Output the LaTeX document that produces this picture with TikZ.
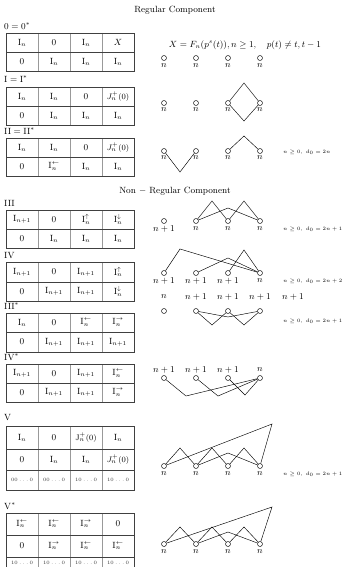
\documentclass[tikz,border=0pt]{standalone}
\usepackage{amsmath,amssymb}
\newcommand\tgridtwo[3]{%
  \draw[vl] (38,#1)--(38,#3) (70,#1)--(70,#3) (102,#1)--(102,#3);
  \draw[tl] (6,#1) rectangle (134,#3);
  \draw[tl] (6,#2)--(134,#2);}
\newcommand\trow[6]{%
  \node[ent] (#1a) at (22,#2) {$#3$};
  \node[ent] (#1b) at (54,#2) {$#4$};
  \node[ent] (#1c) at (86,#2) {$#5$};
  \node[ent] (#1d) at (118,#2) {$#6$};}
\newcommand\smrow[6]{%
  \node[sment] (#1a) at (22,#2) {#3};
  \node[sment] (#1b) at (54,#2) {#4};
  \node[sment] (#1c) at (86,#2) {#5};
  \node[sment] (#1d) at (118,#2) {#6};}
\newcommand\fourv[2]{% prefix, y
  \node[vx] (#1a) at (164,#2) {};
  \node[vx] (#1b) at (196,#2) {};
  \node[vx] (#1c) at (228,#2) {};
  \node[vx] (#1d) at (260,#2) {};}
\newcommand\Jzi{\mbox{\footnotesize$J_n^{+}(0)$}}
\newcommand\Jzr{\mbox{\footnotesize$\mathrm{J}_n^{+}(0)$}}
\begin{document}
\begin{tikzpicture}[x=1pt,y=-1pt,
  tl/.style={draw=black!75,line width=0.5pt},
  vl/.style={draw=black!40,line width=0.8pt},
  ent/.style={inner sep=0pt,font=\small},
  sment/.style={inner sep=0pt,font=\fontsize{4.5}{5}\selectfont,text=black!80},
  vx/.style={circle,draw,inner sep=0pt,minimum size=5pt,line width=0.45pt},
  lab/.style={inner sep=0pt,font=\small},
  gl/.style={line width=0.45pt},
  ttl/.style={anchor=west,inner sep=0pt,font=\small},
  tinytxt/.style={anchor=west,inner sep=0pt,font=\fontsize{4}{5}\selectfont}
]
\useasboundingbox (0,0) rectangle (344,567);
\begin{scope}
\clip (0,0) rectangle (344,567);
% headings
\node[inner sep=0pt,font=\small] (h1) at (175,10) {Regular Component};
\node[inner sep=0pt,font=\small] (h2) at (175,191) {Non $-$ Regular Component};

% ---------- 0 = 0*
\node[ttl] (t0) at (4,26) {$0=0^{*}$};
\tgridtwo{33}{52}{71}
\trow{r0a}{42.5}{\mathrm{I}_n}{0}{\mathrm{I}_n}{X}
\trow{r0b}{61.5}{0}{\mathrm{I}_n}{\mathrm{I}_n}{\mathrm{I}_n}
\node[inner sep=0pt,font=\small] (f0) at (245,45) {$X=F_n(p^{s}(t)),n\geq 1,\quad p(t)\neq t,t-1$};
\fourv{g0}{58}
\foreach \i/\x in {a/164,b/196,c/228,d/260} \node[lab] (l0\i) at (\x,66) {$n$};

% ---------- I = I*
\node[ttl] (t1) at (4,79) {$\mathrm{I}=\mathrm{I}^{*}$};
\tgridtwo{87}{106}{125}
\trow{r1a}{96.5}{\mathrm{I}_n}{\mathrm{I}_n}{0}{\Jzi}
\trow{r1b}{115.5}{0}{\mathrm{I}_n}{\mathrm{I}_n}{\mathrm{I}_n}
\fourv{g1}{103}
\foreach \i/\x in {a/164,b/196,c/228,d/260} \node[lab] (l1\i) at (\x,110) {$n$};
\coordinate (p1t) at (244,83);
\coordinate (p1b) at (244,121);
\draw[gl] (g1c) -- (p1t) -- (g1d);
\draw[gl] (g1c) -- (p1b) -- (g1d);

% ---------- II = II*
\node[ttl] (t2) at (4,131) {$\mathrm{II}=\mathrm{II}^{*}$};
\tgridtwo{138}{157}{176}
\trow{r2a}{147.5}{\mathrm{I}_n}{\mathrm{I}_n}{0}{\Jzi}
\trow{r2b}{166.5}{0}{\mathrm{I}_n^{\leftarrow}}{\mathrm{I}_n}{\mathrm{I}_n}
\fourv{g2}{151}
\foreach \i/\x in {a/164,b/196,c/228,d/260} \node[lab] (l2\i) at (\x,158) {$n$};
\coordinate (p2v) at (180,172);
\coordinate (p2t) at (244,136);
\draw[gl] (g2a) -- (p2v) -- (g2b);
\draw[gl] (g2c) -- (p2t) -- (g2d);
\node[tinytxt] (n2) at (283,152) {$n\geq 0,\ d_0=2n$};

% ---------- III
\node[ttl] (t3) at (4,203) {$\mathrm{III}$};
\tgridtwo{210}{229}{248}
\trow{r3a}{219.5}{\mathrm{I}_{n+1}}{0}{\mathrm{I}_n^{\uparrow}}{\mathrm{I}_n^{\downarrow}}
\trow{r3b}{238.5}{0}{\mathrm{I}_n}{\mathrm{I}_n}{\mathrm{I}_n}
\fourv{g3}{221}
\node[lab] (l3a) at (164,229) {$n+1$};
\foreach \i/\x in {b/196,c/228,d/260} \node[lab] (l3\i) at (\x,229) {$n$};
\coordinate (p3a) at (212,201);
\coordinate (p3b) at (244,201);
\coordinate (p3m) at (228,208);
\draw[gl] (g3b) -- (p3a) -- (g3c) -- (p3b) -- (g3d);
\draw[gl] (g3b) -- (p3m) -- (g3d);
\node[tinytxt] (n3) at (283,229) {$n\geq 0,\ d_0=2n+1$};

% ---------- IV
\node[ttl] (t4) at (4,255) {$\mathrm{IV}$};
\tgridtwo{262}{282}{301}
\trow{r4a}{272}{\mathrm{I}_{n+1}}{0}{\mathrm{I}_{n+1}}{\mathrm{I}_n^{\uparrow}}
\trow{r4b}{291.5}{0}{\mathrm{I}_{n+1}}{\mathrm{I}_{n+1}}{\mathrm{I}_n^{\downarrow}}
\fourv{g4}{273}
\foreach \i/\x in {a/164,b/196,c/228} \node[lab] (l4\i) at (\x,281) {$n+1$};
\node[lab] (l4d) at (260,281) {$n$};
\coordinate (p4a) at (180,249);
\coordinate (p4b) at (228,258);
\coordinate (p4c) at (244,250);
\draw[gl] (g4a) -- (p4a) -- (g4d);
\draw[gl] (g4b) -- (p4b) -- (g4d);
\draw[gl] (g4c) -- (p4c) -- (g4d);
\node[tinytxt] (n4) at (283,281) {$n\geq 0,\ d_0=2n+2$};

% ---------- III*
\node[ttl] (t5) at (4,306) {$\mathrm{III}^{*}$};
\tgridtwo{313}{332}{352}
\trow{r5a}{322.5}{\mathrm{I}_n}{0}{\mathrm{I}_n^{\leftarrow}}{\mathrm{I}_n^{\rightarrow}}
\trow{r5b}{342}{0}{\mathrm{I}_{n+1}}{\mathrm{I}_{n+1}}{\mathrm{I}_{n+1}}
\node[lab] (l5a) at (164,297) {$n$};
\foreach \i/\x in {b/196,c/228,d/260,e/293} \node[lab] (l5\i) at (\x,297) {$n+1$};
\fourv{g5}{311}
\coordinate (p5a) at (212,325);
\coordinate (p5b) at (244,325);
\coordinate (p5m) at (228,317);
\draw[gl] (g5b) -- (p5a) -- (g5c) -- (p5b) -- (g5d);
\draw[gl] (g5b) -- (p5m) -- (g5d);
\node[tinytxt] (n5) at (283,321) {$n\geq 0,\ d_0=2n+1$};

% ---------- IV*
\node[ttl] (t6) at (4,357) {$\mathrm{IV}^{*}$};
\tgridtwo{364}{383}{402}
\trow{r6a}{373.5}{\mathrm{I}_{n+1}}{0}{\mathrm{I}_{n+1}}{\mathrm{I}_n^{\leftarrow}}
\trow{r6b}{392.5}{0}{\mathrm{I}_{n+1}}{\mathrm{I}_{n+1}}{\mathrm{I}_n^{\rightarrow}}
\foreach \i/\x in {a/164,b/196,c/228} \node[lab] (l6\i) at (\x,370) {$n+1$};
\node[lab] (l6d) at (260,370) {$n$};
\fourv{g6}{378}
\coordinate (p6a) at (186,396);
\coordinate (p6b) at (218,396);
\coordinate (p6c) at (245,395);
\draw[gl] (g6a) -- (p6a) -- (g6d);
\draw[gl] (g6b) -- (p6b) -- (g6d);
\draw[gl] (g6c) -- (p6c) -- (g6d);

% ---------- V
\node[ttl] (t7) at (4,417) {$\mathrm{V}$};
\draw[vl] (38,426)--(38,490) (70,426)--(70,490) (102,426)--(102,490);
\draw[tl] (6,426) rectangle (134,490);
\draw[tl] (6,449)--(134,449) (6,470)--(134,470);
\trow{r7a}{437.5}{\mathrm{I}_n}{0}{\Jzr}{\mathrm{I}_n}
\trow{r7b}{459.5}{0}{\mathrm{I}_n}{\mathrm{I}_n}{\Jzi}
\smrow{r7c}{480}{$00\ldots0$}{$00\ldots0$}{$10\ldots0$}{$10\ldots0$}
\fourv{g7}{466}
\foreach \i/\x in {a/164,b/196,c/228,d/260} \node[lab] (l7\i) at (\x,474) {$n$};
\coordinate (p7t) at (272,424);
\coordinate (p7a) at (180,448);
\coordinate (p7b) at (212,448);
\coordinate (p7c) at (244,448);
\coordinate (p7m) at (228,453);
\draw[gl] (g7a) -- (p7t) -- (g7d);
\draw[gl] (g7a) -- (p7a) -- (g7b) -- (p7b) -- (g7c) -- (p7c) -- (g7d);
\draw[gl] (g7b) -- (p7m) -- (g7d);
\node[tinytxt] (n7) at (283,474) {$n\geq 0,\ d_0=2n+1$};

% ---------- V*
\node[ttl] (t8) at (4,506) {$\mathrm{V}^{*}$};
\draw[vl] (38,513)--(38,580) (70,513)--(70,580) (102,513)--(102,580);
\draw[tl] (6,580) -- (6,513) -- (134,513) -- (134,580);
\draw[tl] (6,535)--(134,535) (6,557)--(134,557);
\trow{r8a}{524}{\mathrm{I}_n^{\leftarrow}}{\mathrm{I}_n^{\leftarrow}}{\mathrm{I}_n^{\rightarrow}}{0}
\trow{r8b}{546}{0}{\mathrm{I}_n^{\rightarrow}}{\mathrm{I}_n^{\leftarrow}}{\mathrm{I}_n^{\leftarrow}}
\smrow{r8c}{563}{$10\ldots0$}{$10\ldots0$}{$10\ldots0$}{$10\ldots0$}
\fourv{g8}{544}
\foreach \i/\x in {a/164,b/196,c/228,d/260} \node[lab] (l8\i) at (\x,552) {$n$};
\coordinate (p8t) at (272,507);
\coordinate (p8a) at (180,527);
\coordinate (p8b) at (212,527);
\coordinate (p8c) at (244,527);
\coordinate (p8m) at (228,532);
\draw[gl] (g8a) -- (p8t) -- (g8d);
\draw[gl] (g8a) -- (p8a) -- (g8b) -- (p8b) -- (g8c) -- (p8c) -- (g8d);
\draw[gl] (g8b) -- (p8m) -- (g8d);
\end{scope}
\end{tikzpicture}
\end{document}
